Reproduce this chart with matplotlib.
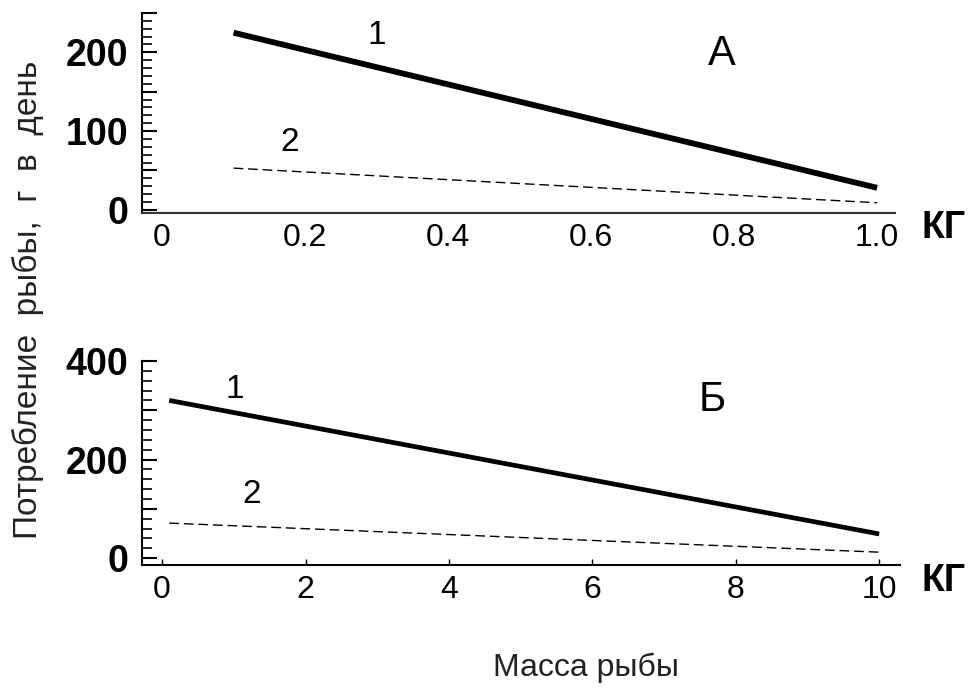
import matplotlib
matplotlib.use('Agg')
import matplotlib.pyplot as plt
from matplotlib.ticker import MultipleLocator

plt.rcParams['font.family'] = ['Liberation Sans', 'DejaVu Sans']

# panel A: fish mass 0.1 - 1 kg
mass_a = [0.1, 1.0]
line1_a = [225, 28]
line2_a = [53, 9]
xticks_a = [0, 0.2, 0.4, 0.6, 0.8, 1.0]
xlabels_a = ['0', '0.2', '0.4', '0.6', '0.8', '1.0']
yticks_a = [0, 50, 100, 150, 200, 250]
ylabels_a = ['0', '', '100', '', '200', '']

# panel B: fish mass 0.1 - 10 kg
mass_b = [0.1, 10.0]
line1_b = [320, 49]
line2_b = [71, 12]
xticks_b = [0, 2, 4, 6, 8, 10]
xlabels_b = ['0', '2', '4', '6', '8', '10']
yticks_b = [0, 100, 200, 300, 400]
ylabels_b = ['0', '', '200', '', '400']


def style_axes(ax, minor_step, xtick_len):
    for side in ['top', 'right']:
        ax.spines[side].set_visible(False)
    for side in ['left', 'bottom']:
        ax.spines[side].set_linewidth(1.5)
        ax.spines[side].set_color('black')
    ax.yaxis.set_minor_locator(MultipleLocator(minor_step))
    ax.tick_params(axis='y', which='major', direction='in', length=11, width=1.5, pad=10)
    ax.tick_params(axis='y', which='minor', direction='in', length=7, width=1.2)
    ax.tick_params(axis='x', which='major', direction='in', length=xtick_len, width=1, pad=7)
    for lab in ax.get_yticklabels():
        lab.set_fontsize(27)
        lab.set_fontweight('bold')
    for lab in ax.get_xticklabels():
        lab.set_fontsize(23)


fig = plt.figure(figsize=(9.72, 6.88), dpi=100)

ax1 = fig.add_axes([0.1461, 0.6904, 0.7747, 0.2907])
ax1.plot(mass_a, line1_a, color='black', lw=4.2, solid_capstyle='butt')
ax1.plot(mass_a, line2_a, color='black', lw=1, ls=(0, (7, 3.5)))
ax1.set_xlim(-0.028, 1.025)
ax1.set_ylim(-4, 250)
ax1.set_xticks(xticks_a)
ax1.set_xticklabels(xlabels_a)
ax1.set_yticks(yticks_a)
ax1.set_yticklabels(ylabels_a)
style_axes(ax1, 10, 0)
ax1.spines['bottom'].set_color('#333333')
ax1.text(0.30, 222, '1', fontsize=24, ha='center', va='center')
ax1.text(0.179, 85, '2', fontsize=24, ha='center', va='center')
ax1.text(0.783, 198, 'А', fontsize=30, ha='center', va='center')

ax2 = fig.add_axes([0.1461, 0.1788, 0.7798, 0.2965])
ax2.plot(mass_b, line1_b, color='black', lw=3.4, solid_capstyle='butt')
ax2.plot(mass_b, line2_b, color='black', lw=1, ls=(0, (7, 3.5)))
ax2.set_xlim(-0.28, 10.29)
ax2.set_ylim(-14, 400)
ax2.set_xticks(xticks_b)
ax2.set_xticklabels(xlabels_b)
ax2.set_yticks(yticks_b)
ax2.set_yticklabels(ylabels_b)
style_axes(ax2, 20, 4)
ax2.text(1.02, 343, '1', fontsize=24, ha='center', va='center')
ax2.text(1.25, 129, '2', fontsize=24, ha='center', va='center')
ax2.text(7.67, 320, 'Б', fontsize=30, ha='center', va='center')

fig.text(0.971, 0.669, 'КГ', fontsize=27, fontweight='bold', ha='center', va='center')
fig.text(0.971, 0.156, 'КГ', fontsize=27, fontweight='bold', ha='center', va='center')
fig.text(0.029, 0.564, 'Потребление  рыбы,  г  в  день', fontsize=24, rotation=90,
         ha='center', va='center', color='#222222')
fig.text(0.603, 0.03, 'Масса рыбы', fontsize=23, ha='center', va='center', color='#222222')

fig.savefig('out.png', dpi=100)
